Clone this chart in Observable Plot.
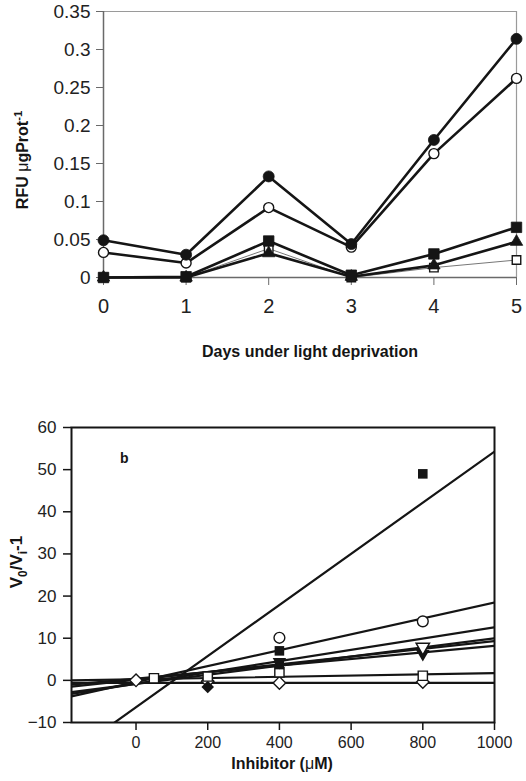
<!DOCTYPE html>
<html><head><meta charset="utf-8">
<script src="https://cdn.jsdelivr.net/npm/d3@7"></script>
<script src="https://cdn.jsdelivr.net/npm/@observablehq/plot@0.6"></script>
<style>
body{margin:0;background:#fff;font-family:Arial,"Liberation Sans",sans-serif;}
#wrap{position:relative;width:526px;height:781px;overflow:hidden;}
#wrap svg{position:absolute;left:0;}
.t{position:absolute;font-weight:bold;color:#151515;white-space:nowrap;line-height:1;}
.rot{transform:translate(-50%,-50%) rotate(-90deg);}
.ctr{transform:translate(-50%,-50%);}
sup,sub{font-size:70%;}
</style></head><body><div id="wrap"></div>
<script>
// ---------- Panel a data ----------
const days = [0, 1, 2, 3, 4, 5];
const filledCircle   = [0.049, 0.030, 0.133, 0.044, 0.181, 0.314];
const openCircle     = [0.033, 0.019, 0.092, 0.040, 0.163, 0.262];
const filledSquare   = [0.000, 0.001, 0.048, 0.003, 0.031, 0.066];
const filledTriangle = [0.000, 0.000, 0.032, 0.001, 0.016, 0.047];
const openSquare     = [0.000, 0.000, 0.038, 0.000, 0.013, 0.023];
const topYTicks = [0, 0.05, 0.1, 0.15, 0.2, 0.25, 0.3, 0.35];

// ---------- Panel b data ----------
const inhibitorTicks = [0, 200, 400, 600, 800, 1000];
const bYTicks = [-10, 0, 10, 20, 30, 40, 50, 60];
const fSquareX = [400, 800],           fSquareY = [7.0, 49.0];
const oCircleX = [400, 800],           oCircleY = [10.1, 14.0];
const fTriDownX = [400, 800],          fTriDownY = [4.4, 6.3];
const oTriDownX = [800],               oTriDownY = [7.9];
const fSquare2X = [400],               fSquare2Y = [3.7];
const oSquareX = [50, 200, 400, 800],  oSquareY = [0.5, 0.9, 1.9, 1.1];
const oDiamondX = [0, 200, 400, 800],  oDiamondY = [0.0, -0.2, -0.6, -0.4];
const fDiamondX = [200],               fDiamondY = [-1.6];
// fitted lines: value at the left end (x = -180) and right end (x = 1000)
const fitXEnds = [-180, 1000];
const fitLeft  = [-17.3, -3.8, -3.2, -2.8, -1.5, -1.0, 0.0, -0.6];
const fitRight = [ 54.3, 18.5, 12.6, 10.0,  9.3,  8.2, 1.7, -0.6];

const ink = "#151515";
const wrap = document.getElementById("wrap");

// ---------- Panel a ----------
const topSeries = [
  {v: openSquare, sym: "square", fill: "#fff", lw: 1, lc: "#777", r: 4.8},
  {v: filledTriangle, sym: "triangle", fill: ink, lw: 2.6, lc: ink, r: 4.6},
  {v: filledSquare, sym: "square", fill: ink, lw: 2.6, lc: ink, r: 5.9},
  {v: openCircle, sym: "circle", fill: "#fff", lw: 2.6, lc: ink, r: 5.0},
  {v: filledCircle, sym: "circle", fill: ink, lw: 2.6, lc: ink, r: 5.5}
];
const topMarks = [
  Plot.ruleY([0.35], {stroke: "#9a9a9a", strokeWidth: 1.2}),
  Plot.ruleX([5], {stroke: "#9a9a9a", strokeWidth: 1.2}),
  Plot.ruleY([0], {stroke: "#6a6a6a", strokeWidth: 1.5}),
  Plot.ruleX([0], {stroke: "#6a6a6a", strokeWidth: 1.5}),
  Plot.axisX({ticks: days, tickSize: 8, tickPadding: 13, stroke: "#6a6a6a", fill: "#222", label: null, tickFormat: d => String(d), fontSize: 20}),
  Plot.axisY({ticks: topYTicks, tickSize: 7, tickPadding: 6, stroke: "#6a6a6a", fill: "#222", label: null, tickFormat: d => String(d)})
];
for (const s of topSeries) {
  const data = days.map((d, i) => ({d, v: s.v[i]}));
  topMarks.push(Plot.line(data, {x: "d", y: "v", stroke: s.lc, strokeWidth: s.lw}));
}
for (const s of topSeries) {
  const data = days.map((d, i) => ({d, v: s.v[i]}));
  topMarks.push(Plot.dot(data, {x: "d", y: "v", symbol: s.sym, r: s.r, fill: s.fill, stroke: ink, strokeWidth: s.fill === "#fff" ? 1.4 : 0.8}));
}
const topPlot = Plot.plot({
  width: 526, height: 330,
  marginLeft: 103, marginRight: 10, marginTop: 11, marginBottom: 53,
  style: {fontFamily: "Arial, 'Liberation Sans', sans-serif", fontSize: "19px", background: "transparent", overflow: "visible", color: "#222"},
  x: {domain: [0, 5]},
  y: {domain: [0, 0.35]},
  marks: topMarks
});
topPlot.style.top = "0px";
wrap.appendChild(topPlot);

// ---------- Panel b ----------
const fitData = [];
fitLeft.forEach((l, i) => {
  fitData.push({k: i, x: fitXEnds[0], y: l});
  fitData.push({k: i, x: fitXEnds[1], y: fitRight[i]});
});
const pts = (xs, ys) => xs.map((x, i) => ({x, y: ys[i]}));
const bPlot = Plot.plot({
  width: 526, height: 360,
  marginLeft: 71, marginRight: 32, marginTop: 27, marginBottom: 38,
  style: {fontFamily: "Arial, 'Liberation Sans', sans-serif", fontSize: "16px", background: "transparent", overflow: "visible", color: "#222"},
  x: {domain: [-180, 1000]},
  y: {domain: [-10, 60]},
  clip: true,
  marks: [
    Plot.line(fitData, {x: "x", y: "y", z: "k", stroke: ink, strokeWidth: 2.2, clip: true}),
    Plot.dot(pts(oDiamondX, oDiamondY), {x: "x", y: "y", symbol: "square", rotate: 45, r: 5.0, fill: "#fff", stroke: ink, strokeWidth: 1.4}),
    Plot.dot(pts(fDiamondX, fDiamondY), {x: "x", y: "y", symbol: "square", rotate: 45, r: 5.0, fill: ink}),
    Plot.dot(pts(oSquareX, oSquareY), {x: "x", y: "y", symbol: "square", r: 5.2, fill: "#fff", stroke: ink, strokeWidth: 1.4}),
    Plot.dot(pts(fSquare2X, fSquare2Y), {x: "x", y: "y", symbol: "square", r: 5.2, fill: ink}),
    Plot.dot(pts(fTriDownX, fTriDownY), {x: "x", y: "y", symbol: "triangle", rotate: 180, r: 5.0, fill: ink}),
    Plot.dot(pts(oTriDownX, oTriDownY), {x: "x", y: "y", symbol: "triangle", rotate: 180, r: 5.0, fill: "#fff", stroke: ink, strokeWidth: 1.4}),
    Plot.dot(pts(fSquareX, fSquareY), {x: "x", y: "y", symbol: "square", r: 5.4, fill: ink}),
    Plot.dot(pts(oCircleX, oCircleY), {x: "x", y: "y", symbol: "circle", r: 5.4, fill: "#fff", stroke: ink, strokeWidth: 1.4}),
    Plot.text(["b"], {x: -33, y: 52.6, text: d => d, fontWeight: "bold", fontSize: 14, fill: ink}),
    Plot.frame({stroke: ink, strokeWidth: 2}),
    Plot.axisX({ticks: inhibitorTicks, tickSize: 8, tickPadding: 6, stroke: ink, strokeWidth: 1.5, fontSize: 16, label: null, tickFormat: d => String(d)}),
    Plot.axisY({ticks: bYTicks, tickSize: 8, tickPadding: 7, stroke: ink, strokeWidth: 1.5, fontSize: 17, label: null})
  ]
});
bPlot.style.top = "400px";
wrap.appendChild(bPlot);

// ---------- titles ----------
function title(html, left, top, cls, size) {
  const d = document.createElement("div");
  d.className = "t " + cls;
  d.style.left = left + "px";
  d.style.top = top + "px";
  d.style.fontSize = size + "px";
  d.innerHTML = html;
  wrap.appendChild(d);
}
title("RFU <span style='font-weight:normal'>&mu;</span>gProt<sup>-1</sup>", 22, 160, "rot", 16);
title("Days under light deprivation", 310, 352, "ctr", 16);
title("V<sub>0</sub>/V<sub>i</sub>-1", 19, 562, "rot", 17);
title("Inhibitor (<span style='font-weight:normal'>&mu;</span>M)", 282, 764, "ctr", 16);
</script></body></html>
